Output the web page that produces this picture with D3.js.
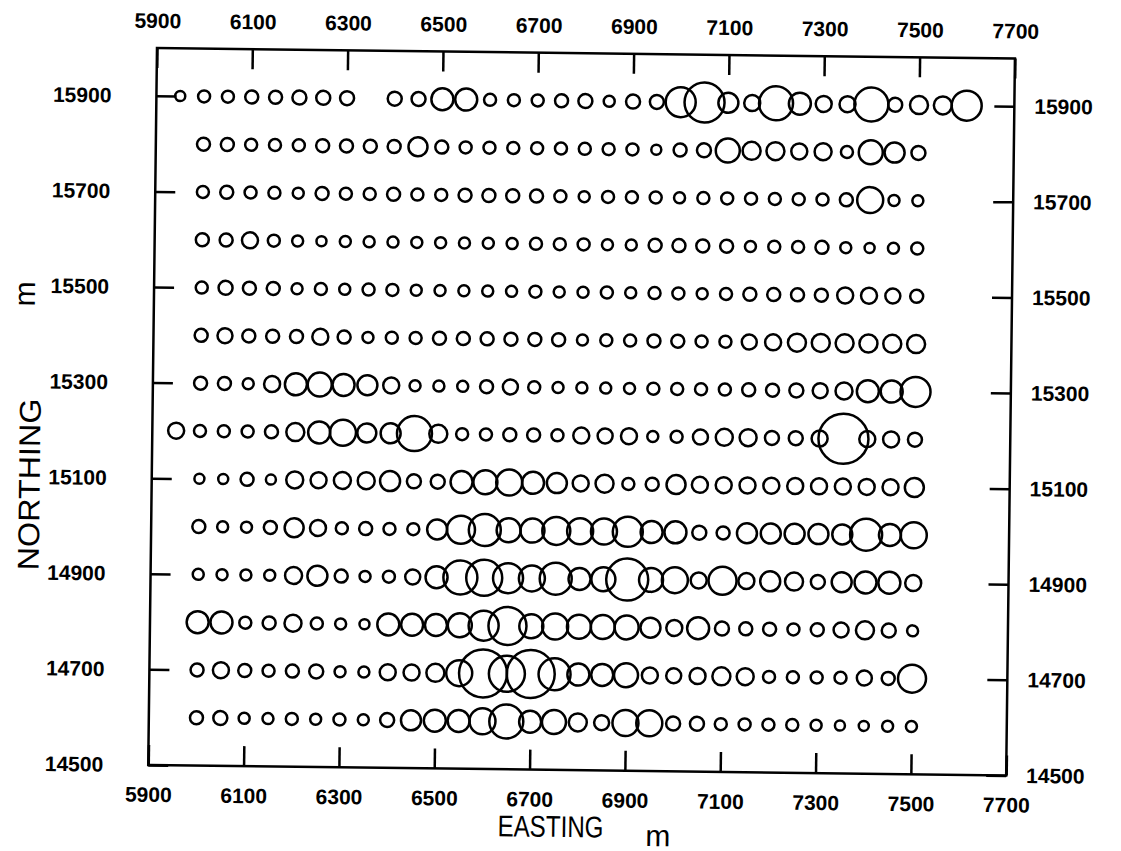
<!DOCTYPE html>
<html>
<head>
<meta charset="utf-8">
<script src="https://cdn.jsdelivr.net/npm/d3@7"></script>
<style>
  body { margin: 0; background: #fff; }
  text { font-family: "Liberation Sans", Arial, sans-serif; fill: #000; }
</style>
</head>
<body>
<svg id="chart" width="1121" height="851"></svg>
<script>
// grid stations along each line (m east); null = no reading
const eastings = [5950, 6000, 6050, 6100, 6150, 6200, 6250, 6300, 6350, 6400, 6450, 6500, 6550,
    6600, 6650, 6700, 6750, 6800, 6850, 6900, 6950, 7000, 7050, 7100, 7150, 7200, 7250, 7300,
    7350, 7400, 7450, 7500, 7550, 7600];
const northings = [15900, 15800, 15700, 15600, 15500, 15400, 15300, 15200, 15100, 15000,
    14900, 14800, 14700, 14600];

// symbol size
const r15900 = [5, 6,6,6.5,6.5,7,7,7,null,7,7,11,11,6,6,6,6.5,7, 5.5,7,7,15,20,10,8,17,11,8,8,17,7,9, 9,15];
const r15800 = [null, 6.5,6.5,6,6,6,6.5,6.5,6.5,6.5,9.5,6.5,6,6,6,6,6,6, 6,6,5,6.5,7,12,9,9,8,8.5,6,12,10,7, null,null];
const r15700 = [null, 6,6.5,6,6,5.5,6.5,6,6,6.5,6,6,6.5,6.5,6.5,6.5,6,5.5, 6,6,6,5.5,6,6,6,6,6,6,6.5,13,5.5,5.5, null,null];
const r15600 = [null, 6.5,6.5,8,6,5.5,5,5.5,5.5,5.5,5.5,5.5,5.5,5.5,5.5,6,6,6, 5.5,5.5,6.5,6.5,6.5,6.5,5.5,6,6,6.5,5.5,5,5.5,6, null,null];
const r15500 = [null, 6,7,6.5,6.5,5.5,6,5.5,6,6,5.5,5.5,5.5,5.5,5.5,6,5.5,5.5, 6,5.5,6,6,5.5,6,6.5,6.5,6.5,6.5,8,8,7.5,6.5, null,null];
const r15400 = [null, 6.5,7.5,6.5,6.5,6.5,8,6.5,5.5,6,6,6.5,6.5,6.5,6.5,6.5,6.5,5.5, 6,6,6.5,6.5,6,6,7.5,8,9,9,9,9,9,9, null,null];
const r15300 = [null, 6.5,6.5,5.5,8,11,12,11,10,8,5.5,5.5,5.5,6.5,7.5,6,5.5,5.5, 5.5,5.5,6,6,6,6,6.5,6.5,7,7.5,8.5,11,11,15, null,null];
const r15200 = [8, 6,6,6,6.5,9,11,13,9.5,10,17.5,9,6,6,6.5,6.5,6,8, 7.5,8,5.5,6,7.5,8.5,8.5,7,7,8,25,8,8,7, null,null];
const r15100 = [null, 5,5,6.5,5,8.5,8,8.5,8.5,10,7,7,11,12,13,11,10,8, 9,6,6.5,9.5,8,8,8,8,8,8,8,8,8,9.5, null,null];
const r15000 = [null, 6.5,5.5,5.5,6.5,9.5,8,6,6.5,6,6,10,14,16,12,12,14,13, 13,15,11,11,7,6.5,10,10,10,10,10,16,11,13, null,null];
const r14900 = [null, 5.5,5.5,5.5,5.5,8.5,10,6.5,5.5,6,7.5,11,17,18,15,13,16,11, 12,21,12,13,8,14,8,10,9,7,10,11,11,8, null,null];
const r14800 = [null, 11,11,6,6.5,8.5,6,5.5,5,11,11,11,12,15,19,12,13,12, 12,12,10,8,11,7,6.5,6.5,6,6.5,7.5,9,7,5.5, null,null];
const r14700 = [null, 6.5,8,6.5,6,6.5,7,5.5,5.5,8,8,9,13,24,18,24,16,11, 11,12,8,7.5,8,9,8.5,6,6,6,6,7.5,6.5,14, null,null];
const r14600 = [null, 6.5,7,5.5,5.5,6,5.5,6,5.5,7,10,11,11,13,17,11,12,9, 7.5,13,13,7,7,6,6,6,6,5.5,5,5,5.5,5.5, null,null];

const xTicks = [5900, 6100, 6300, 6500, 6700, 6900, 7100, 7300, 7500, 7700];
const yTicks = [14500, 14700, 14900, 15100, 15300, 15500, 15700, 15900];

const rows = [r15900, r15800, r15700, r15600, r15500, r15400, r15300, r15200,
    r15100, r15000, r14900, r14800, r14700, r14600];

var points = [];
rows.forEach(function(row, i) {
    row.forEach(function(v, j) {
        if (v != null) points.push({e: eastings[j], n: northings[i], v: v});
    });
});

var frame = {left: 157, right: 1015, top: 48, bottom: 765};

var svg = d3.select("#chart");
// the scanned sheet sits slightly rotated
var g = svg.append("g")
    .attr("transform", "rotate(0.7," + frame.left + "," + frame.top + ")");

var x = d3.scaleLinear().domain([5900, 7700]).range([frame.left, frame.right]);
var y = d3.scaleLinear().domain([14500, 16000]).range([frame.bottom, frame.top]);
var r = d3.scaleLinear().domain([0, 25]).range([0, 25]);

function styleAxis(sel) {
    sel.select(".domain").remove();
    sel.selectAll(".tick line").attr("stroke", "#000").attr("stroke-width", 2.5);
    sel.selectAll(".tick text")
        .attr("font-size", "21px")
        .attr("font-weight", "bold")
        .attr("font-family", "Liberation Sans, Arial, sans-serif");
}

g.append("g")
    .attr("transform", "translate(0," + frame.top + ")")
    .call(d3.axisTop(x).tickValues(xTicks).tickFormat(d3.format("d")).tickSize(-20).tickPadding(20))
    .call(styleAxis);
g.append("g")
    .attr("transform", "translate(0," + frame.bottom + ")")
    .call(d3.axisBottom(x).tickValues(xTicks).tickFormat(d3.format("d")).tickSize(-20).tickPadding(22))
    .call(styleAxis);
g.append("g")
    .attr("transform", "translate(" + frame.left + ",0)")
    .call(d3.axisLeft(y).tickValues(yTicks).tickFormat(d3.format("d")).tickSize(-20).tickPadding(45))
    .call(styleAxis);
g.append("g")
    .attr("transform", "translate(" + frame.right + ",0)")
    .call(d3.axisRight(y).tickValues(yTicks).tickFormat(d3.format("d")).tickSize(-20).tickPadding(20))
    .call(styleAxis);

// frame
g.append("rect")
    .attr("x", frame.left)
    .attr("y", frame.top)
    .attr("width", frame.right - frame.left)
    .attr("height", frame.bottom - frame.top)
    .attr("fill", "none")
    .attr("stroke", "#000")
    .attr("stroke-width", 2.5);

// the circles
g.selectAll(".site")
    .data(points)
    .join("circle")
    .attr("class", "site")
    .attr("cx", function(d) { return x(d.e); })
    .attr("cy", function(d) { return y(d.n); })
    .attr("r", function(d) { return r(d.v); })
    .attr("fill", "none")
    .attr("stroke", "#000")
    .attr("stroke-width", 2.5);

// axis titles
g.append("text")
    .attr("x", 507)
    .attr("y", 832)
    .attr("font-size", "30px")
    .attr("textLength", 106)
    .attr("lengthAdjust", "spacingAndGlyphs")
    .text("EASTING");
g.append("text")
    .attr("x", 655)
    .attr("y", 840)
    .attr("font-size", "30px")
    .text("m");
g.append("text")
    .attr("transform", "translate(45,572) rotate(-90)")
    .attr("font-size", "30px")
    .attr("textLength", 172)
    .attr("lengthAdjust", "spacingAndGlyphs")
    .text("NORTHING");
g.append("text")
    .attr("transform", "translate(38,308) rotate(-90)")
    .attr("font-size", "30px")
    .text("m");
</script>
</body>
</html>
